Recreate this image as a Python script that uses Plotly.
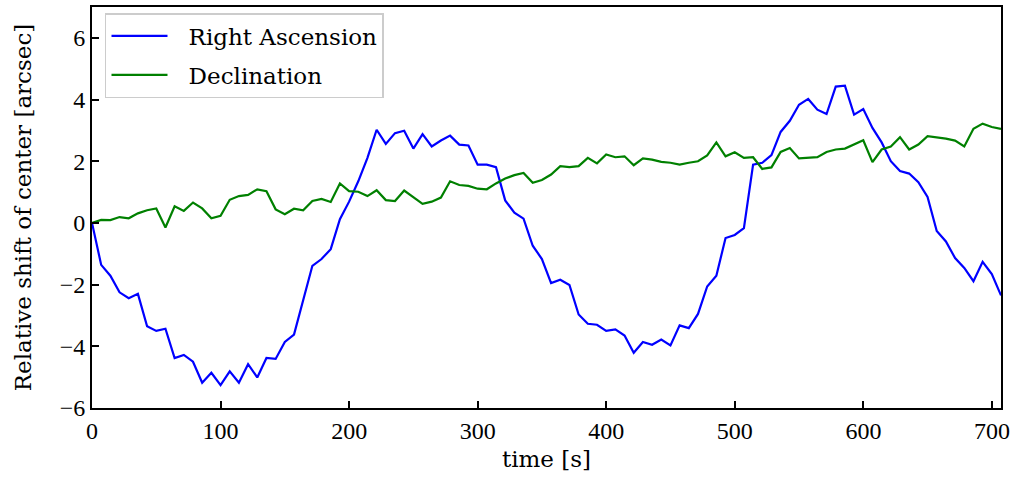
import numpy as np
import plotly.graph_objects as go

# sample times [s] (100 evenly spaced exposures)
time_s = np.linspace(0, 707, 100)

right_ascension = [
    0.00, -1.36, -1.71, -2.25, -2.44, -2.30, -3.35, -3.50, -3.43, -4.38,
    -4.28, -4.50, -5.18, -4.86, -5.26, -4.81, -5.18, -4.58, -5.01, -4.38,
    -4.41, -3.86, -3.62, -2.52, -1.39, -1.17, -0.85, 0.12, 0.69, 1.35,
    2.11, 3.02, 2.56, 2.91, 2.99, 2.41, 2.88, 2.48, 2.67, 2.83,
    2.54, 2.51, 1.89, 1.89, 1.81, 0.73, 0.33, 0.14, -0.74, -1.17,
    -1.95, -1.84, -2.01, -2.97, -3.27, -3.30, -3.50, -3.45, -3.65, -4.21,
    -3.86, -3.95, -3.78, -3.97, -3.32, -3.41, -2.95, -2.06, -1.71, -0.49,
    -0.39, -0.17, 1.89, 1.95, 2.20, 2.95, 3.31, 3.83, 4.02, 3.67,
    3.53, 4.42, 4.45, 3.51, 3.69, 3.08, 2.61, 2.00, 1.68, 1.60,
    1.32, 0.84, -0.26, -0.60, -1.14, -1.46, -1.89, -1.26, -1.66, -2.35,
]

declination = [
    0.00, 0.10, 0.09, 0.19, 0.15, 0.31, 0.41, 0.47, -0.15, 0.54,
    0.39, 0.66, 0.47, 0.15, 0.23, 0.75, 0.87, 0.91, 1.09, 1.03,
    0.44, 0.28, 0.46, 0.41, 0.71, 0.78, 0.68, 1.28, 1.03, 1.01,
    0.87, 1.06, 0.74, 0.71, 1.05, 0.84, 0.62, 0.69, 0.82, 1.35,
    1.23, 1.20, 1.11, 1.09, 1.28, 1.44, 1.55, 1.62, 1.30, 1.39,
    1.57, 1.84, 1.81, 1.84, 2.11, 1.93, 2.22, 2.13, 2.16, 1.87,
    2.09, 2.05, 1.98, 1.95, 1.89, 1.95, 2.00, 2.19, 2.61, 2.16,
    2.29, 2.11, 2.13, 1.75, 1.80, 2.30, 2.43, 2.09, 2.11, 2.13,
    2.30, 2.38, 2.41, 2.54, 2.68, 1.97, 2.38, 2.48, 2.78, 2.38,
    2.54, 2.81, 2.78, 2.73, 2.67, 2.48, 3.05, 3.22, 3.11, 3.05,
]

x_ticks = [0, 100, 200, 300, 400, 500, 600, 700]
y_ticks = [-6, -4, -2, 0, 2, 4, 6]

TICK_FONT = "Liberation Serif"
TEXT_FONT = "DejaVu Serif"
TICK_FS = 24
TEXT_FS = 23

fig = go.Figure()
fig.add_trace(go.Scatter(x=time_s, y=right_ascension, mode="lines",
                         name="\u2002\u2009Right Ascension", legendgroup="ra",
                         line=dict(color="#0000ff", width=2.2)))
fig.add_trace(go.Scatter(x=time_s, y=declination, mode="lines",
                         name="\u2002\u2009Declination", legendgroup="dec",
                         line=dict(color="#008000", width=2.2)))

axis_common = dict(
    showline=True, linecolor="black", linewidth=2, mirror=True,
    ticks="inside", ticklen=7, tickwidth=1.5, tickcolor="black",
    showgrid=False, zeroline=False,
    tickfont=dict(family=TICK_FONT, size=TICK_FS, color="black"),
)

fig.update_layout(
    width=1015, height=481,
    margin=dict(l=92, r=13, t=5, b=73),
    paper_bgcolor="white", plot_bgcolor="white",
    font=dict(family=TEXT_FONT, size=TEXT_FS, color="black"),
    xaxis=dict(range=[0, 707], tickvals=x_ticks,
               title=dict(text="time [s]", font=dict(family=TEXT_FONT, size=TEXT_FS), standoff=8),
               **axis_common),
    yaxis=dict(range=[-6, 7], tickvals=y_ticks,
               title=dict(text="Relative shift of center [arcsec]", font=dict(family=TEXT_FONT, size=TEXT_FS), standoff=22),
               **axis_common),
    legend=dict(x=0.0143, y=0.985, xanchor="left", yanchor="top",
                bgcolor="rgba(255,255,255,0.8)", bordercolor="#cccccc", borderwidth=1.5,
                font=dict(family=TEXT_FONT, size=TEXT_FS, color="black"),
                itemwidth=56, tracegroupgap=6),
    showlegend=True,
)

fig.write_html("out.html")
